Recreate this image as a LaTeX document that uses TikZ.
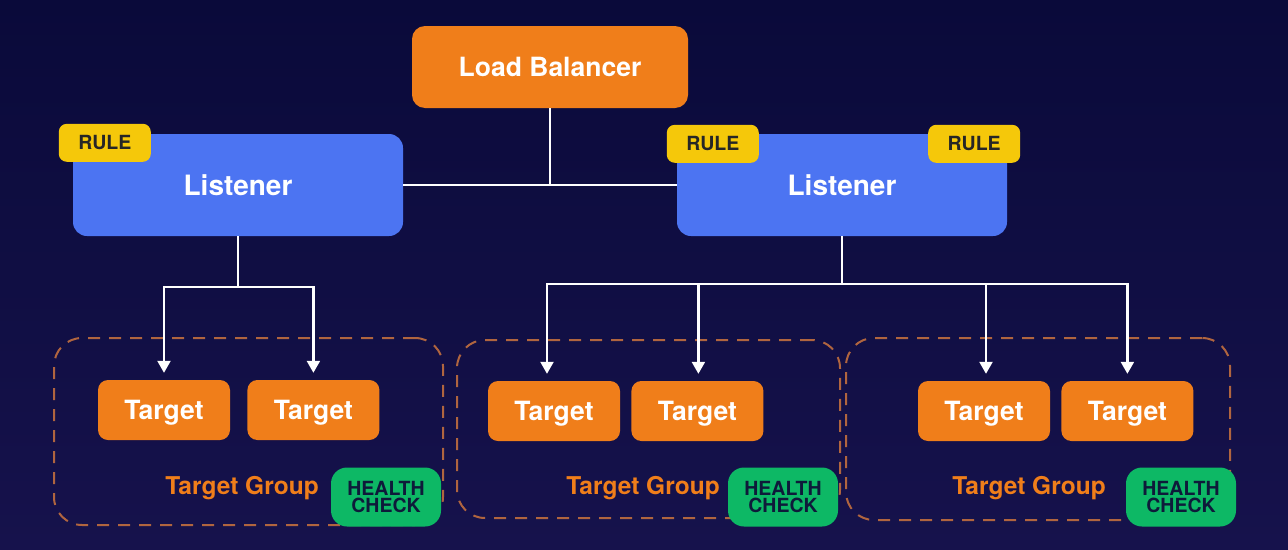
\documentclass[tikz,border=0pt]{standalone}
\usepackage{fontspec}
\setmainfont{TeX Gyre Heros}
\usetikzlibrary{positioning, arrows.meta}

\definecolor{bgtop}{HTML}{0A0A3A}
\definecolor{bgbot}{HTML}{16124C}
\definecolor{lborange}{HTML}{F07E1A}
\definecolor{lisblue}{HTML}{4C74F2}
\definecolor{ruleyellow}{HTML}{F5C80A}
\definecolor{hcgreen}{HTML}{0DB865}
\definecolor{hctext}{HTML}{0E1A3A}
\definecolor{grpline}{HTML}{B0653F}

\begin{document}
\begin{tikzpicture}[x=1pt, y=-1pt]
        \tikzstyle{lbbox} = [rectangle, rounded corners=13pt, minimum width=276pt, minimum height=82pt, text centered, text depth=0pt, fill=lborange, text=white, font=\fontsize{26.5}{30}\selectfont\bfseries]
        \tikzstyle{lisbox} = [rectangle, rounded corners=14pt, minimum width=330pt, minimum height=102pt, text centered, text depth=0pt, fill=lisblue, text=white, font=\fontsize{28}{32}\selectfont\bfseries]
        \tikzstyle{rulebox} = [rectangle, rounded corners=8pt, minimum width=92pt, minimum height=38pt, text centered, fill=ruleyellow, text=black!85, font=\fontsize{19.5}{22}\selectfont\bfseries]
        \tikzstyle{tgtbox} = [rectangle, rounded corners=10pt, minimum width=132pt, minimum height=60pt, text centered, text depth=0pt, fill=lborange, text=white, font=\fontsize{26.5}{30}\selectfont\bfseries]
        \tikzstyle{group} = [rectangle, rounded corners=28pt, draw=grpline, line width=2pt, dash pattern=on 12pt off 9pt]
        \tikzstyle{grplabel} = [text=lborange, text depth=0pt, font=\fontsize{24.5}{28}\selectfont\bfseries]
        \tikzstyle{hcbox} = [rectangle, rounded corners=16pt, minimum width=110pt, minimum height=59pt, align=center, fill=hcgreen, text=hctext, inner sep=0pt, font=\fontsize{19.5}{17.5}\selectfont\bfseries]
        \tikzstyle{line} = [white, line width=2.3pt]
        \tikzstyle{arrow} = [white, line width=2.3pt, -{Triangle[width=13pt,length=12pt]}, shorten >=7pt]

        % background
        \shade[top color=bgtop, bottom color=bgbot] (0,0) rectangle (1288,549);
        \useasboundingbox (0,0) rectangle (1288,549);

        % target groups
        \node (grpA) [group, minimum width=389pt, minimum height=187pt] at (248.5,431.5) {};
        \node (grpB) [group, minimum width=383pt, minimum height=178pt] at (648.5,429) {};
        \node (grpC) [group, minimum width=384pt, minimum height=182pt] at (1038,429) {};

        \node (lb) [lbbox] at (550,67) {Load Balancer};
        \node (lisL) [lisbox] at (238,185) {Listener};
        \node (lisR) [lisbox] at (842,185) {Listener};

        \node (ruleA) [rulebox] at ([shift={(32,9)}]lisL.north west) {RULE};
        \node (ruleB) [rulebox] at ([shift={(36,10)}]lisR.north west) {RULE};
        \node (ruleC) [rulebox] at ([shift={(-33,10)}]lisR.north east) {RULE};

        \node (t1) [tgtbox] at (164,410) {Target};
        \node (t2) [tgtbox, right=17pt of t1] {Target};
        \node (t3) [tgtbox] at (554,411) {Target};
        \node (t4) [tgtbox, right=11pt of t3] {Target};
        \node (t5) [tgtbox] at (984,411) {Target};
        \node (t6) [tgtbox, right=11pt of t5] {Target};

        \node (tgA) [grplabel] at (242,485) {Target Group};
        \node (tgB) [grplabel] at (643,485) {Target Group};
        \node (tgC) [grplabel] at (1029,485) {Target Group};

        \node (hcA) [hcbox] at (386,497) {HEALTH\\CHECK};
        \node (hcB) [hcbox] at (783,497) {HEALTH\\CHECK};
        \node (hcC) [hcbox] at (1181,497) {HEALTH\\CHECK};

        \coordinate (jL) at (lisL.south |- 0,287);
        \coordinate (jR) at (lisR.south |- 0,284);

        \draw [line] (lb.south) -- (lb.south |- lisL.east);
        \draw [line] (lisL.east) -- (lisR.west);
        \draw [line] (lisL.south) -- (jL);
        \draw [line] (lisR.south) -- (jR);
        \draw [arrow] (jL) -| (t1.north);
        \draw [arrow] (jL) -| (t2.north);
        \draw [arrow] (jR) -| ([xshift=-7pt]t3.north);
        \draw [arrow] (jR) -| ([xshift=1pt]t4.north);
        \draw [arrow] (jR) -| ([xshift=2pt]t5.north);
        \draw [arrow] (jR) -| (t6.north);
    \end{tikzpicture}
\end{document}
